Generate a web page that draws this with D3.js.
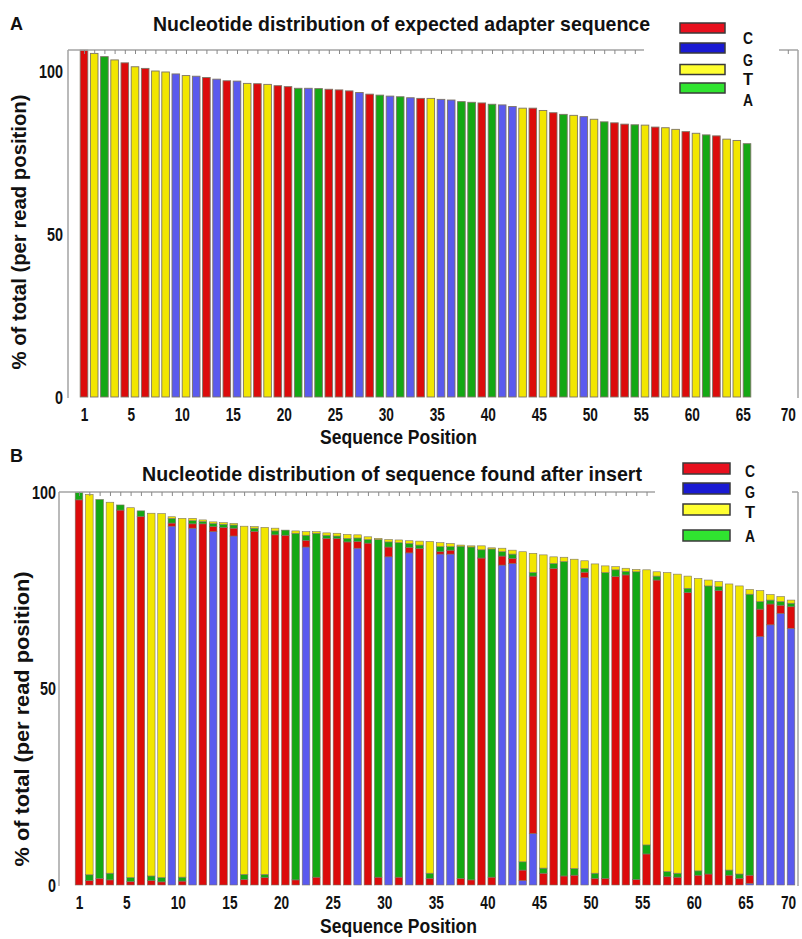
<!DOCTYPE html>
<html>
<head>
<meta charset="utf-8">
<script src="https://cdn.jsdelivr.net/npm/d3@7"></script>
<style>
  body { margin: 0; background: #fff; }
  svg { display: block; }
</style>
</head>
<body>
<svg id="fig" width="802" height="939"></svg>
<script>
// ---- data ----
// panel A: expected adapter base per position and its bar height (%)
var adapterBases = ["C","T","A","T","C","T","C","T","T","G","T","G","C","G","C","G","T","C","T","C",
    "C","A","G","A","C","C","C","G","C","A","G","A","G","C","T","G","G","A","A","C",
    "A","G","G","T","C","T","C","A","T","G","T","A","C","C","A","T","C","T","T","C",
    "T","A","C","T","T","A"];
var adapterValues = [106.4,105.4,104.4,103.4,102.5,101.3,100.8,100.0,99.7,99.1,98.6,98.4,98.0,97.5,97.0,96.9,96.2,96.1,95.9,95.5,
    95.2,94.7,94.7,94.6,94.4,94.2,93.9,93.4,92.9,92.6,92.3,92.1,91.8,91.6,91.6,91.3,91.1,90.6,90.4,90.2,
    89.8,89.6,89.1,88.6,88.6,87.9,87.2,86.7,86.4,86.0,85.2,84.4,84.1,83.7,83.5,83.4,82.8,82.6,82.1,81.4,
    80.9,80.4,80.1,79.1,78.7,77.7];

// panel B: share of each base found after the insert (%), stacked G, C, A, T from the bottom
var foundG = [0,0,0,0,0,0,0,0,0,91.3,0,90.8,0,89.9,0,88.8,0,0,0,0,
    0,0,86.0,0,0,0,0,85.7,0,0,83.5,0,84.5,0,0,84.2,84.2,0,0,0,
    0,81.4,81.8,1.1,13.1,0,0,0,0,78.2,0,0,0,0,0,0,0,0,0,0,
    0,0,0,0,0,0.4,63.2,66.2,69.1,65.3];
var foundC = [98.0,1.1,1.7,1.3,95.4,0.9,93.8,1.1,0.8,0.8,1.0,1.1,91.9,1.3,91.0,2.0,1.4,90.0,1.9,89.1,
    89.0,1.3,1.7,2.0,88.2,88.2,87.3,1.7,87.0,2.0,2.5,2.0,1.4,85.6,1.7,0.6,1.0,1.7,1.3,83.2,
    2.0,2.3,1.3,2.7,65.5,3.0,80.5,2.3,2.5,1.4,1.7,1.7,78.5,78.9,1.4,7.9,77.6,2.1,2.0,74.4,
    2.5,2.8,74.9,2.5,1.7,2.1,7.0,5.3,2.1,5.5];
var foundA = [1.9,1.5,96.4,1.7,1.3,1.0,1.4,1.2,1.1,1.2,1.0,0.8,0.6,0.8,0.8,0.8,1.3,0.8,0.8,1.0,
    1.3,88.2,1.3,87.5,0.8,0.6,0.9,0.9,0.9,85.9,1.3,85.1,1.0,0.9,1.3,1.3,0.9,84.5,84.7,2.1,
    83.5,1.1,1.1,2.1,0.9,1.3,1.3,80.0,1.7,0.9,1.3,77.8,1.7,0.9,78.3,2.3,1.0,1.3,1.0,1.1,
    1.1,73.3,1.0,1.3,1.1,71.5,1.9,1.0,0.9,0.9];
var foundT = [0,96.8,0,94.4,0,94.1,0,92.3,92.6,0.4,91.3,0.6,0.4,0.4,0.4,0.4,88.6,0.4,88.3,0.7,
    0,0.6,0.9,0.4,0.6,0.7,1.0,0.8,0.7,0.3,0.6,0.7,0.7,1.0,84.4,1.0,0.8,0.3,0.3,1.0,
    0.3,0.9,1.0,78.9,4.9,79.7,1.7,1.1,78.7,2.0,78.7,1.7,0.8,0.8,0.6,70.0,1.1,76.1,76.1,3.1,
    74.4,1.5,1.3,72.8,73.3,1.2,2.8,1.4,1.3,0.8];

var legendBases = ["C", "G", "T", "A"];
var xTickLabels = [1, 5, 10, 15, 20, 25, 30, 35, 40, 45, 50, 55, 60, 65, 70];
var yTickLabels = [0, 50, 100];

// ---- styles ----
var barColor = { C: "#dc0b0b", G: "#5a5aee", T: "#f2e600", A: "#14a814" };
var legendColor = { C: "#e8101e", G: "#1a1ad2", T: "#ffff30", A: "#30e430" };
var font = "'Liberation Sans', Arial, sans-serif";
var axisGrey = "#a3a3a3";

var svg = d3.select("#fig");
svg.append("rect").attr("width", 802).attr("height", 939).attr("fill", "#fff");

// the figure uses a tall, narrow bold face: squeeze each label to ~8px per glyph
function narrowText(sel, perChar) {
    sel.attr("font-family", font).attr("font-weight", "bold")
        .attr("lengthAdjust", "spacingAndGlyphs")
        .attr("textLength", function () { return this.textContent.length * perChar; });
}

function drawFrame(g, cfg, x, y) {
    // left axis line
    g.append("line")
        .attr("x1", cfg.axisX).attr("x2", cfg.axisX)
        .attr("y1", cfg.top).attr("y2", y(0) + 1)
        .attr("stroke", axisGrey).attr("stroke-width", 1.5);
    // top line with small ticks, broken by the legend
    g.append("line")
        .attr("x1", cfg.axisX).attr("x2", cfg.topEnd)
        .attr("y1", cfg.top).attr("y2", cfg.top)
        .attr("stroke", axisGrey).attr("stroke-width", 1.5);
    g.append("line")
        .attr("x1", cfg.rightStart).attr("x2", cfg.right)
        .attr("y1", cfg.top).attr("y2", cfg.top)
        .attr("stroke", axisGrey).attr("stroke-width", 1.5);
    g.append("line")
        .attr("x1", cfg.right).attr("x2", cfg.right)
        .attr("y1", cfg.top).attr("y2", y(0) + 1)
        .attr("stroke", axisGrey).attr("stroke-width", 1.5);
    var topTicks = d3.range(1, 71).filter(function (k) {
        var px = x(k);
        return (px < cfg.topEnd - 2) || (px > cfg.rightStart + 2 && px < cfg.right - 2);
    });
    g.append("g")
        .attr("transform", "translate(0," + cfg.top + ")")
        .call(d3.axisBottom(x).tickValues(topTicks).tickSize(4).tickFormat(""))
        .call(function (a) { a.select(".domain").remove(); })
        .selectAll("line").attr("stroke", "#888").attr("stroke-width", 1);

    // y labels
    g.append("g")
        .attr("transform", "translate(" + cfg.axisX + ",0)")
        .call(d3.axisLeft(y).tickValues(yTickLabels).tickSize(0).tickPadding(cfg.yPad))
        .call(function (a) { a.select(".domain").remove(); })
        .selectAll("text")
        .attr("font-size", "19px").attr("fill", "#111")
        .call(narrowText, 8);

    // x labels (inner labels sit a little right of their bar in the original)
    g.append("g")
        .attr("transform", "translate(0," + cfg.xLabelY + ")")
        .call(d3.axisBottom(x).tickValues(xTickLabels).tickSize(0).tickPadding(0))
        .call(function (a) { a.select(".domain").remove(); })
        .selectAll("text")
        .attr("dy", "0.35em")
        .attr("dx", function (d) { return d === 1 ? 0 : (d === 70 ? cfg.lastDx : 6); })
        .attr("font-size", "18px").attr("fill", "#111")
        .call(narrowText, 7.6);

    // titles
    g.append("text")
        .attr("x", cfg.titleX).attr("y", cfg.titleY)
        .attr("textLength", cfg.titleLen).attr("lengthAdjust", "spacingAndGlyphs")
        .attr("font-family", font).attr("font-weight", "bold")
        .attr("font-size", "21px").attr("fill", "#111")
        .text(cfg.title);
    g.append("text")
        .attr("x", 10).attr("y", cfg.letterY)
        .attr("font-family", font).attr("font-weight", "bold")
        .attr("font-size", "18px").attr("fill", "#111")
        .text(cfg.letter);
    g.append("text")
        .attr("transform", "translate(" + cfg.yTitleX + "," + cfg.yTitleY + ") rotate(-90)")
        .attr("text-anchor", "middle")
        .attr("textLength", cfg.yTitleLen).attr("lengthAdjust", "spacingAndGlyphs")
        .attr("font-family", font).attr("font-weight", "bold")
        .attr("font-size", "21px").attr("fill", "#111")
        .text("% of total (per read position)");
    g.append("text")
        .attr("x", 320).attr("y", cfg.xTitleY)
        .attr("textLength", 157).attr("lengthAdjust", "spacingAndGlyphs")
        .attr("font-family", font).attr("font-weight", "bold")
        .attr("font-size", "20px").attr("fill", "#111")
        .text("Sequence Position");

    // legend
    var leg = g.append("g");
    leg.selectAll("rect")
        .data(legendBases).enter()
        .append("rect")
        .attr("x", cfg.legX)
        .attr("y", function (d, i) { return cfg.legBoxY[i]; })
        .attr("width", cfg.legW)
        .attr("height", cfg.legH)
        .attr("fill", function (d) { return legendColor[d]; })
        .attr("stroke", "#3a3a3a").attr("stroke-width", 1.5);
    leg.selectAll("text")
        .data(legendBases).enter()
        .append("text")
        .attr("x", cfg.legTextX)
        .attr("y", function (d, i) { return cfg.legTextY[i]; })
        .attr("dy", "0.36em")
        .attr("text-anchor", "middle")
        .attr("font-size", cfg.legFont).attr("fill", "#111")
        .text(function (d) { return d; })
        .call(narrowText, 10);
}

// ---- panel A ----
var xA = d3.scaleLinear().domain([1, 66]).range([84, 747]);
var yA = d3.scaleLinear().domain([0, 100]).range([397, 71]);
var gA = svg.append("g");
var barW = 7.6;

gA.append("g").selectAll("rect")
    .data(adapterValues).enter()
    .append("rect")
    .attr("x", function (d, i) { return xA(i + 1) - barW / 2; })
    .attr("y", function (d) { return yA(d); })
    .attr("width", barW)
    .attr("height", function (d) { return yA(0) - yA(d); })
    .attr("fill", function (d, i) { return barColor[adapterBases[i]]; })
    .attr("stroke", "#7d7466").attr("stroke-width", 0.9);

drawFrame(gA, {
    axisX: 68, top: 50, topEnd: 644, rightStart: 779, right: 798,
    yPad: 5, xLabelY: 415, lastDx: 0,
    title: "Nucleotide distribution of expected adapter sequence",
    titleX: 153, titleY: 30.5, titleLen: 497,
    letter: "A", letterY: 30,
    yTitleX: 26, yTitleY: 232, yTitleLen: 275,
    xTitleY: 444,
    legX: 680, legW: 45, legH: 10, legBoxY: [23, 43, 64.5, 83],
    legTextX: 748, legTextY: [38, 60, 79.5, 100.5], legFont: "16px"
}, xA, yA);

// ---- panel B ----
var xB = d3.scaleLinear().domain([1, 70]).range([79, 791]);
var yB = d3.scaleLinear().domain([0, 100]).range([885, 492]);
var gB = svg.append("g");

var foundRows = foundG.map(function (g, i) {
    return { pos: i + 1, G: g, C: foundC[i], A: foundA[i], T: foundT[i] };
});
var stacked = d3.stack().keys(["G", "C", "A", "T"])(foundRows);

gB.append("g").selectAll("g")
    .data(stacked).enter()
    .append("g")
    .attr("fill", function (d) { return barColor[d.key]; })
    .selectAll("rect")
    .data(function (d) { return d.filter(function (s) { return s[1] - s[0] > 0; }); })
    .enter()
    .append("rect")
    .attr("x", function (d) { return xB(d.data.pos) - barW / 2; })
    .attr("y", function (d) { return yB(d[1]); })
    .attr("width", barW)
    .attr("height", function (d) { return yB(d[0]) - yB(d[1]); })
    .attr("stroke", "#7d7466").attr("stroke-width", 0.6);

drawFrame(gB, {
    axisX: 59, top: 492, topEnd: 655, rightStart: 792, right: 798,
    yPad: 3, xLabelY: 903, lastDx: -3,
    title: "Nucleotide distribution of sequence found after insert",
    titleX: 142, titleY: 480.5, titleLen: 500,
    letter: "B", letterY: 462,
    yTitleX: 29, yTitleY: 719, yTitleLen: 295,
    xTitleY: 933,
    legX: 683, legW: 47, legH: 11, legBoxY: [463, 483, 504, 530],
    legTextX: 750, legTextY: [471, 492, 512, 536], legFont: "17px"
}, xB, yB);
</script>
</body>
</html>
